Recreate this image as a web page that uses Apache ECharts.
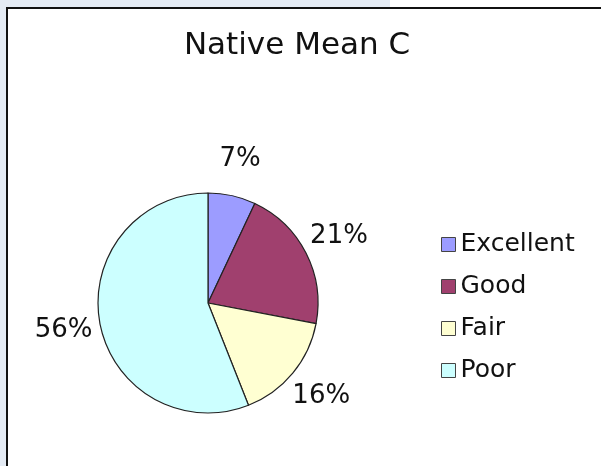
<!DOCTYPE html>
<html>
<head>
<meta charset="utf-8">
<script src="https://cdn.jsdelivr.net/npm/echarts@6/dist/echarts.min.js"></script>
<style>
  html, body { margin: 0; padding: 0; background: #ffffff; }
  #wrap { position: relative; width: 601px; height: 466px; overflow: hidden; background: #ffffff; }
  #bgTop { position: absolute; left: 0; top: 0; width: 390px; height: 7px; background: #e4ebf4; }
  #bgLeft { position: absolute; left: 0; top: 0; width: 6px; height: 466px; background: #e4ebf4; }
  #frame { position: absolute; left: 6px; top: 7px; width: 700px; height: 600px; border-top: 2px solid #111; border-left: 2px solid #111; box-sizing: border-box; }
  #chart { position: absolute; left: 0; top: 0; width: 601px; height: 466px; }
</style>
</head>
<body>
<div id="wrap">
  <div id="bgTop"></div>
  <div id="bgLeft"></div>
  <div id="frame"></div>
  <div id="chart"></div>
</div>
<script>
const titleText = "Native Mean C";
const categories = ["Excellent", "Good", "Fair", "Poor"];
const values = [7, 21, 16, 56];
const colors = ["#9c9cff", "#a0406e", "#ffffd2", "#ccffff"];

const pieData = categories.map((name, i) => ({ name: name, value: values[i], itemStyle: { color: colors[i] } }));
const labelData = categories.map((name, i) => ({ name: name, value: values[i] }));
const font = "'DejaVu Sans', sans-serif";

const chart = echarts.init(document.getElementById('chart'), null, { renderer: 'canvas' });
chart.setOption({
  backgroundColor: 'transparent',
  animation: false,
  title: {
    text: titleText,
    left: 292,
    top: 25,
    textAlign: 'center',
    textStyle: { fontFamily: font, fontSize: 31, fontWeight: 'normal', color: '#111' }
  },
  legend: {
    orient: 'vertical',
    left: 436,
    top: 227,
    itemWidth: 14,
    itemHeight: 14,
    itemGap: 17,
    icon: 'rect',
    data: categories,
    itemStyle: { borderColor: '#444', borderWidth: 1 },
    textStyle: { fontFamily: font, fontSize: 25, lineHeight: 25, color: '#111' }
  },
  series: [
    {
      type: 'pie',
      center: [208, 303],
      radius: 110,
      startAngle: 90,
      clockwise: true,
      data: pieData,
      label: { show: false },
      labelLine: { show: false },
      itemStyle: { borderColor: '#222', borderWidth: 1.2 },
      emphasis: { disabled: true }
    },
    {
      type: 'pie',
      center: [208, 303],
      radius: [130, 158],
      startAngle: 90,
      clockwise: true,
      silent: true,
      legendHoverLink: false,
      data: labelData,
      itemStyle: { color: 'rgba(0,0,0,0)', borderWidth: 0 },
      label: {
        show: true,
        position: 'inside',
        formatter: '{c}%',
        fontFamily: font,
        fontSize: 26,
        color: '#111'
      },
      labelLine: { show: false },
      emphasis: { disabled: true }
    }
  ]
});
</script>
</body>
</html>
